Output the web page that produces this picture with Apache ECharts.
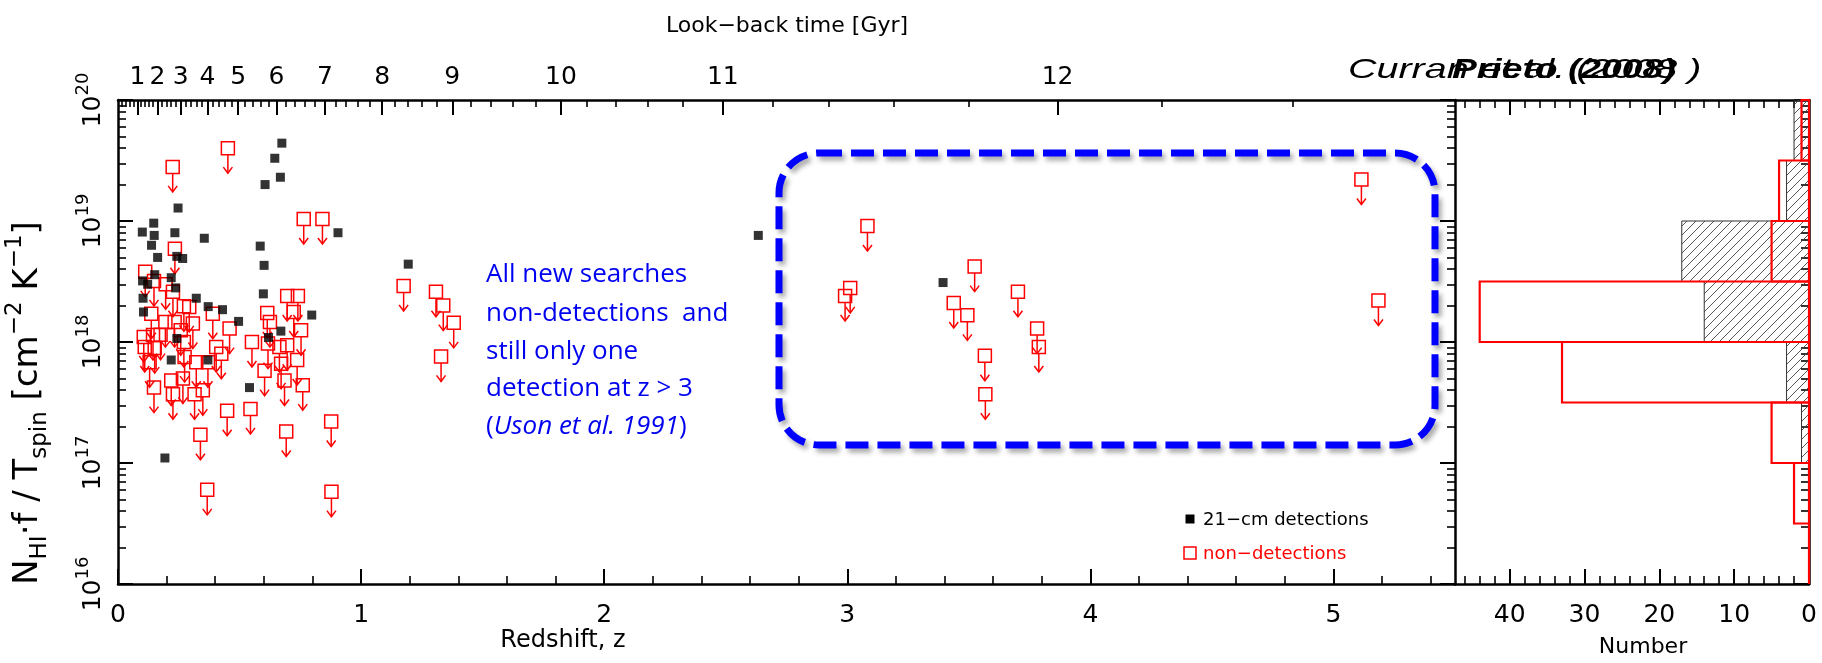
<!DOCTYPE html>
<html>
<head>
<meta charset="utf-8">
<script src="https://cdn.jsdelivr.net/npm/echarts@6/dist/echarts.min.js"></script>
<style>
html,body{margin:0;padding:0;background:#fff;}
#c{width:1822px;height:663px;}
</style>
</head>
<body>
<div id="c"></div>
<script>
// ---------- data ----------
// 21-cm detections: redshift and N_HI.f/T_spin [cm^-2 K^-1]
const detZ = [0.674,0.645,0.668,0.605,0.247,0.147,0.100,0.149,0.234,0.355,0.905,0.138,0.585,0.163,0.242,0.266,0.601,0.151,0.219,0.101,0.122,0.237,0.103,0.598,0.322,0.371,0.105,0.430,0.797,0.496,0.242,0.619,0.670,0.219,0.370,0.541,0.193,1.194,2.634,3.394];
const detN = [4.4e19,3.3e19,2.3e19,2.0e19,1.28e19,9.6e18,8.1e18,7.6e18,8.0e18,7.2e18,8.0e18,6.3e18,6.2e18,5.0e18,5.1e18,4.9e18,4.3e18,3.6e18,3.4e18,3.2e18,3.0e18,2.8e18,2.3e18,2.5e18,2.3e18,1.96e18,1.77e18,1.85e18,1.67e18,1.48e18,1.07e18,1.09e18,1.23e18,7.1e17,7.1e17,4.2e17,1.1e17,4.4e18,7.6e18,3.1e18];
// non-detections (upper limits)
const nonZ = [0.452,0.225,0.764,0.841,0.234,
  0.112,0.148,0.196,0.226,0.271,0.293,0.137,0.195,0.233,0.308,0.106,0.144,0.175,0.258,0.110,0.151,0.271,0.390,0.459,0.404,0.425,0.274,0.322,0.370,0.130,0.219,0.267,0.148,0.226,0.315,0.349,0.449,0.545,
  0.696,0.740,0.614,0.625,0.723,0.753,0.551,0.617,0.664,0.696,0.737,0.603,0.671,0.685,0.760,
  0.339,0.692,0.877,0.367,0.878,
  1.175,1.308,1.338,1.381,1.329,
  3.083,3.012,2.991,3.524,3.438,3.494,3.702,3.781,3.788,3.566,3.568,5.115,5.185];
const nonN = [4.0e19,2.8e19,1.04e19,1.04e19,5.9e18,
  3.8e18,3.2e18,3.0e18,2.6e18,1.97e18,1.95e18,1.71e18,1.46e18,1.46e18,1.42e18,1.10e18,1.14e18,1.15e18,1.25e18,9.1e17,8.9e17,1.0e18,1.71e18,1.29e18,9.1e17,8.0e17,7.5e17,6.8e17,6.8e17,6.8e17,4.8e17,5.0e17,4.2e17,3.7e17,3.7e17,4.0e17,2.7e17,2.8e17,
  2.4e18,2.4e18,1.74e18,1.46e18,1.77e18,1.25e18,1.0e18,9.7e17,9.1e17,9.4e17,7.1e17,5.8e17,6.6e17,4.8e17,4.4e17,
  1.71e17,1.82e17,2.2e17,6.0e16,5.8e16,
  2.9e18,2.6e18,2.0e18,1.44e18,7.6e17,
  9.1e18,2.8e18,2.4e18,4.2e18,2.1e18,1.66e18,2.6e18,1.29e18,9.1e17,7.7e17,3.7e17,2.2e19,2.2e18];
// histogram (half-dex bins of log N)
const histEdges = [16,16.5,17,17.5,18,18.5,19,19.5,20];
const histNon = [0,2,5,33,44,5,4,1];
const histDet = [0,0,1,3,14,17,3,2];
// tick labels
const xLabels = ['0','1','2','3','4','5'];
const lookLabels = ['1','2','3','4','5','6','7','8','9','10','11','12'];
const lookZ = [0.080,0.162,0.258,0.368,0.494,0.652,0.851,1.087,1.375,1.822,2.488,3.865]; // redshift of each look-back label
const yExp = [16,17,18,19,20];
const histLabels = [0,10,20,30,40];

// ---------- axis helpers ----------
// look-back time (Gyr), flat LCDM: only used to place the 0.2 Gyr minor ticks of the top axis
function lookback(z){
  const H0=71, Om=0.27, OL=0.73, tH=977.8/H0, n=400, h=z/n;
  let s=0;
  for(let i=0;i<=n;i++){
    const zz=i*h, f=1/((1+zz)*Math.sqrt(Om*Math.pow(1+zz,3)+OL));
    s += (i===0||i===n)?f:(i%2?4*f:2*f);
  }
  return tH*s*h/3;
}
function zOfT(t){
  let lo=0, hi=6;
  for(let k=0;k<50;k++){const m=(lo+hi)/2; if(lookback(m)<t) lo=m; else hi=m;}
  return (lo+hi)/2;
}
const zTopMajor = lookZ.slice();
const corr = [0].concat(lookLabels.map((l,i)=>lookZ[i]-zOfT(Number(l))));
const zTopMinor = [];
for(let k=1;k<=64;k++){
  if(k%5===0) continue;
  const t=k*0.2, j=Math.min(Math.floor(t),12), f=t-j;
  const d = j>=12 ? corr[12] : corr[j]+(corr[j+1]-corr[j])*f;
  const z=zOfT(t)+d; if(z<5.5) zTopMinor.push(z);
}
const xMajor = xLabels.map(Number);
const xMinor = [];
for(let k=1;k<=27;k++){ if(k%5!==0) xMinor.push(k*0.2); }
const yMinor = [];
for(let e=16;e<20;e++){ for(let m=2;m<=9;m++) yMinor.push(e+Math.log10(m)); }
const hMinor = [];
for(let k=2;k<=46;k+=2){ if(k%10!==0) hMinor.push(k); }

const FONT = 'DejaVu Sans';
const LINE = {color:'#000', width:2.5};
function ax(o){
  const base = {type:'value', splitLine:{show:false},
    axisLine:{show:false, onZero:false, lineStyle:LINE},
    axisTick:{show:false}, axisLabel:{show:false}};
  return Object.assign(base, o);
}
function tick(vals, len, w){
  return {show:true, inside:true, length:len, customValues:vals, lineStyle:{color:'#000', width:w}};
}

// hatch pattern
const hc = document.createElement('canvas'); hc.width=9; hc.height=9;
(function(){const g=hc.getContext('2d'); g.strokeStyle='#444'; g.lineWidth=0.9; g.beginPath();
  g.moveTo(0,9); g.lineTo(9,0); g.moveTo(-2,2); g.lineTo(2,-2); g.moveTo(7,11); g.lineTo(11,7); g.stroke();})();

const chart = echarts.init(document.getElementById('c'), null, {renderer:'canvas'});

const xAxis = [
  ax({gridIndex:0, min:0, max:5.5, position:'bottom', axisLine:{show:true,onZero:false,lineStyle:LINE},
      axisTick:tick(xMajor,15,2),
      axisLabel:{show:true, customValues:xMajor, margin:19, fontSize:25, fontFamily:FONT, color:'#000',
        formatter:v=>xLabels[Math.round(v)]}}),
  ax({gridIndex:0, min:0, max:5.5, position:'bottom', axisTick:tick(xMinor,8,1.6)}),
  ax({gridIndex:0, min:0, max:5.5, position:'top', axisLine:{show:true,onZero:false,lineStyle:LINE},
      axisTick:tick(zTopMajor,15,2),
      axisLabel:{show:true, customValues:zTopMajor, margin:10, fontSize:25, fontFamily:FONT, color:'#000',
        formatter:v=>{let b=0; zTopMajor.forEach((z,i)=>{if(Math.abs(z-v)<Math.abs(zTopMajor[b]-v)) b=i;}); return lookLabels[b];}}}),
  ax({gridIndex:0, min:0, max:5.5, position:'top', axisTick:tick(zTopMinor,7,1.6)}),
  ax({gridIndex:1, min:0, max:47.3, inverse:true, position:'bottom', axisLine:{show:true,onZero:false,lineStyle:LINE},
      axisTick:tick(histLabels,15,2),
      axisLabel:{show:true, customValues:histLabels, margin:19, fontSize:25, fontFamily:FONT, color:'#000'}}),
  ax({gridIndex:1, min:0, max:47.3, inverse:true, position:'bottom', axisTick:tick(hMinor,8,1.6)}),
  ax({gridIndex:1, min:0, max:47.3, inverse:true, position:'top', axisLine:{show:true,onZero:false,lineStyle:LINE},
      axisTick:tick(histLabels,15,2)}),
  ax({gridIndex:1, min:0, max:47.3, inverse:true, position:'top', axisTick:tick(hMinor,8,1.6)})
];
const yAxis = [
  ax({gridIndex:0, min:16, max:20, position:'left', axisLine:{show:true,onZero:false,lineStyle:LINE},
      axisTick:tick(yExp,15,2),
      axisLabel:{show:true, customValues:yExp, rotate:90, margin:12, color:'#000', fontFamily:FONT,
        formatter:v=>'{b|10}{s|'+Math.round(v)+'}',
        rich:{b:{fontSize:25, fontFamily:FONT, lineHeight:32, verticalAlign:'bottom', color:'#000'},
              s:{fontSize:18, fontFamily:FONT, lineHeight:18, verticalAlign:'top', color:'#000'}}}}),
  ax({gridIndex:0, min:16, max:20, position:'left', axisTick:tick(yMinor,8,1.6)}),
  ax({gridIndex:0, min:16, max:20, position:'right', axisLine:{show:true,onZero:false,lineStyle:LINE},
      axisTick:tick(yExp,15,2)}),
  ax({gridIndex:0, min:16, max:20, position:'right', axisTick:tick(yMinor,8,1.6)}),
  ax({gridIndex:1, min:16, max:20, position:'right', axisLine:{show:true,onZero:false,lineStyle:LINE},
      axisTick:tick(yExp,15,2)}),
  ax({gridIndex:1, min:16, max:20, position:'right', axisTick:tick(yMinor,8,1.6)})
];

const nonData = nonZ.map((z,i)=>[z, Math.log10(nonN[i])]);
const detData = detZ.map((z,i)=>[z, Math.log10(detN[i])]);
const RED = '#ff0000';

function histItem(counts, styleFn){
  return function(params, api){
    const i = params.dataIndex;
    const c = counts[i];
    const p0 = api.coord([0, histEdges[i]]);
    const p1 = api.coord([c, histEdges[i+1]]);
    return {type:'rect', shape:{x:Math.min(p0[0],p1[0]), y:p1[1], width:Math.abs(p0[0]-p1[0]), height:p0[1]-p1[1]},
            style:styleFn(c)};
  };
}

const series = [
  {type:'custom', name:'non-detections', xAxisIndex:0, yAxisIndex:0, data:nonData, encode:{x:0,y:1}, z:3, clip:false,
   renderItem:function(params, api){
     const p = api.coord([api.value(0), api.value(1)]);
     const s = 13, tip = 25;
     return {type:'group', children:[
       {type:'rect', shape:{x:p[0]-s/2, y:p[1]-s/2, width:s, height:s}, style:{fill:'none', stroke:RED, lineWidth:1.5}},
       {type:'line', shape:{x1:p[0], y1:p[1]+s/2, x2:p[0], y2:p[1]+tip}, style:{stroke:RED, lineWidth:1.5}},
       {type:'polyline', shape:{points:[[p[0]-4.5,p[1]+tip-6],[p[0],p[1]+tip],[p[0]+4.5,p[1]+tip-6]]}, style:{fill:'none', stroke:RED, lineWidth:1.5}}
     ]};
   }},
  {type:'scatter', name:'21-cm detections', xAxisIndex:0, yAxisIndex:0, data:detData, symbol:'rect', symbolSize:9,
   itemStyle:{color:'#000'}, z:4},
  {type:'custom', name:'detections histogram', xAxisIndex:4, yAxisIndex:4, data:histDet.map((c,i)=>[c, histEdges[i], histEdges[i+1]]), z:2,
   renderItem:histItem(histDet, c => c>0 ? {fill:{image:hc, repeat:'repeat'}, stroke:'#333', lineWidth:1} : {fill:'none', stroke:'none'})},
  {type:'custom', name:'non-detections histogram', xAxisIndex:4, yAxisIndex:4, data:histNon.map((c,i)=>[c, histEdges[i], histEdges[i+1]]), z:3, clip:false,
   renderItem:histItem(histNon, c => ({fill:'none', stroke:RED, lineWidth:2.2}))}
];

const blue = '#0000f0';
const blueFont = 'Open Sans';
function blueLine(txt, y){
  return {type:'text', x:486, y:y, z:10, style:{text:txt, fontSize:26, fontFamily:blueFont, fill:blue, align:'left', verticalAlign:'middle',
    rich:{n:{fontSize:26, fontFamily:blueFont, fill:blue, color:blue}, i:{fontSize:26, fontFamily:blueFont, fontStyle:'italic', fill:blue, color:blue}}}};
}

const graphic = [
  {type:'text', x:787, y:26, style:{text:'Look\u2212back time [Gyr]', fontSize:22, fontFamily:FONT, fill:'#000', align:'center', verticalAlign:'middle'}},
  {type:'text', x:563, y:641, style:{text:'Redshift, z', fontSize:24, fontFamily:FONT, fill:'#000', align:'center', verticalAlign:'middle'}},
  {type:'text', x:1643, y:647, style:{text:'Number', fontSize:22, fontFamily:FONT, fill:'#000', align:'center', verticalAlign:'middle'}},
  // y-axis title
  {type:'text', x:28, y:403, rotation:Math.PI/2, style:{
    text:'{n|N}{sb|HI}{n|\u00b7f / T}{sb|spin}{n| [cm}{sp|\u22122}{n| K}{sp|\u22121}{n|]}',
    align:'center', verticalAlign:'middle', fontFamily:FONT, fontSize:34, fill:'#000',
    rich:{n:{fontSize:34, fontFamily:FONT, lineHeight:48, verticalAlign:'middle', fill:'#000'},
          sb:{fontSize:23, fontFamily:FONT, lineHeight:23, verticalAlign:'bottom', fill:'#000'},
          sp:{fontSize:23, fontFamily:FONT, lineHeight:23, verticalAlign:'top', fill:'#000'}}}},
  // title (two overlapping captions as in the original)
  {type:'text', x:1348, y:70, scaleX:1.41, z:10, style:{text:'Curran et al. (2008 )', fontSize:28, fontFamily:'Liberation Sans', fontStyle:'italic', fill:'#000', align:'left', verticalAlign:'middle'}},
  {type:'text', x:1452, y:70, scaleX:1.33, z:10, style:{text:'Prieto (2008)', fontSize:28, fontFamily:'Liberation Sans', fontStyle:'italic', fontWeight:'bold', fill:'#000', align:'left', verticalAlign:'middle'}},
  // annotation
  blueLine('{n|All new searches}', 275),
  blueLine('{n|non-detections  and}', 314),
  blueLine('{n|still only one}', 352),
  blueLine('{n|detection at z > 3}', 389),
  blueLine('{n|(}{i|Uson et al. 1991}{n|)}', 427),
  {type:'rect', z:9, shape:{x:779, y:153, width:656, height:292, r:40},
   style:{fill:'none', stroke:'#0000ff', lineWidth:7, lineDash:[23,9], shadowBlur:5, shadowOffsetX:3, shadowOffsetY:4, shadowColor:'rgba(0,0,0,0.35)'}},
  // legend
  {type:'rect', shape:{x:1185.5, y:514.5, width:9, height:9}, style:{fill:'#000'}},
  {type:'text', x:1203, y:520, style:{text:'21\u2212cm detections', fontSize:18, fontFamily:FONT, fill:'#000', align:'left', verticalAlign:'middle'}},
  {type:'rect', shape:{x:1184, y:547, width:12, height:12}, style:{fill:'none', stroke:RED, lineWidth:1.5}},
  {type:'text', x:1203, y:554, style:{text:'non\u2212detections', fontSize:18, fontFamily:FONT, fill:RED, align:'left', verticalAlign:'middle'}}
];

chart.setOption({
  animation:false,
  backgroundColor:'#fff',
  textStyle:{fontFamily:FONT, color:'#000'},
  grid:[{left:118, top:100, width:1337, height:484}, {left:1455, top:100, width:354, height:484}],
  xAxis:xAxis, yAxis:yAxis, series:series, graphic:graphic
});
</script>
</body>
</html>
